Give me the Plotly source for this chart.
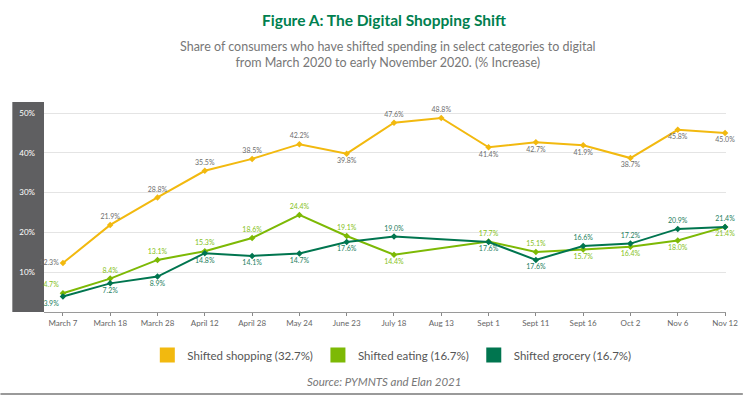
import plotly.graph_objects as go

categories = ["March 7", "March 18", "March 28", "April 12", "April 28", "May 24", "June 23",
              "July 18", "Aug 13", "Sept 1", "Sept 11", "Sept 16", "Oct 2", "Nov 6", "Nov 12"]
shopping = [12.3, 21.9, 28.8, 35.5, 38.5, 42.2, 39.8, 47.6, 48.8, 41.4, 42.7, 41.9, 38.7, 45.8, 45.0]
eating = [4.7, 8.4, 13.1, 15.3, 18.6, 24.4, 19.1, 14.4, None, 17.7, 15.1, 15.7, 16.4, 18.0, 21.4]
grocery = [3.9, 7.2, 8.9, 14.8, 14.1, 14.7, 17.6, 19.0, None, 17.6, 13.1, 16.6, 17.2, 20.9, 21.4]
# label values as printed in the source chart (Sept 11 grocery is printed as 17.6%)
grocery_printed = [3.9, 7.2, 8.9, 14.8, 14.1, 14.7, 17.6, 19.0, None, 17.6, 17.6, 16.6, 17.2, 20.9, 21.4]
y_ticks = [10, 20, 30, 40, 50]
legend_names = ["Shifted shopping (32.7%)", "Shifted eating (16.7%)", "Shifted grocery (16.7%)"]

C_SHOP = "#F2B90F"
C_EAT = "#7DB905"
C_GRO = "#00754F"

shop_pos = ["middle left", "top center", "top center", "top center", "top center", "top center",
            "bottom center", "top center", "top center", "bottom center", "bottom center",
            "bottom center", "bottom center", "bottom center", "bottom center"]
eat_pos = ["top left", "top center", "top center", "top center", "top center", "top center",
           "top center", "bottom center", "top center", "top center", "top center",
           "bottom center", "bottom center", "bottom center", "bottom center"]
gro_pos = ["bottom left", "bottom center", "bottom center", "bottom center", "bottom center",
           "bottom center", "bottom center", "top center", "top center", "bottom center",
           "bottom center", "top center", "top center", "top center", "top center"]


def labels(vals):
    return ["" if v is None else f"{v:.1f}%" for v in vals]


FONT = "Lato, 'Open Sans', sans-serif"
NARROW = "'Liberation Sans Narrow', Lato, sans-serif"

fig = go.Figure()
series = [
    (shopping, labels(shopping), shop_pos, C_SHOP, "#6e6e6e"),
    (eating, labels(eating), eat_pos, C_EAT, "#86C21A"),
    (grocery, labels(grocery_printed), gro_pos, C_GRO, "#1E8060"),
]
for vals, txt, pos, col, tcol in series:
    fig.add_trace(go.Scatter(
        x=categories, y=vals, mode="lines+markers+text", text=txt, textposition=pos,
        textfont=dict(size=7, color=tcol, family=NARROW),
        line=dict(color=col, width=2), marker=dict(symbol="diamond", size=5, color=col),
        connectgaps=True, cliponaxis=False, showlegend=False, hoverinfo="skip"))

for name, col in zip(legend_names, [C_SHOP, C_EAT, C_GRO]):
    fig.add_trace(go.Scatter(x=[None], y=[None], mode="markers", name=name,
                             marker=dict(symbol="square", size=15, color=col)))

fig.update_layout(
    width=750, height=396,
    margin=dict(l=44, r=17, t=102, b=84),
    paper_bgcolor="white", plot_bgcolor="white",
    font=dict(family=FONT, color="#666"),
    xaxis=dict(type="category", range=[-0.4, 14.02], showgrid=False, showline=True,
               linecolor="#9a9a9a", linewidth=1, ticks="outside", ticklen=3, tickcolor="#888",
               tickfont=dict(size=8, color="#666"), fixedrange=True),
    yaxis=dict(range=[0, 52.8], tickvals=y_ticks, ticktext=[f"{v}%" for v in y_ticks],
               showgrid=True, gridcolor="#e4e4e4", gridwidth=1, zeroline=False,
               tickfont=dict(size=8, color="white"), ticklabelstandoff=8, fixedrange=True),
    legend=dict(orientation="h", x=0.51, xanchor="center", y=-0.205, yanchor="middle",
                font=dict(size=11.5, color="#555", family=FONT), itemsizing="trace",
                bgcolor="rgba(0,0,0,0)"),
    shapes=[
        dict(type="rect", xref="paper", yref="paper", x0=-32 / 689, x1=0, y0=0, y1=1,
             fillcolor="#5f5f61", line=dict(width=0), layer="below"),
        dict(type="line", xref="paper", yref="paper", x0=-44 / 689, x1=706 / 689,
             y0=-82 / 210, y1=-82 / 210, line=dict(color="#9a9a9a", width=2)),
    ],
    annotations=[
        dict(text="<b>Figure A: The Digital Shopping Shift</b>", xref="paper", yref="paper",
             x=0.499, y=1 + 82 / 210, xanchor="center", yanchor="middle", showarrow=False,
             font=dict(size=15.5, color="#00804F", family=FONT)),
        dict(text="Share of consumers who have shifted spending in select categories to digital<br>"
                  "from March 2020 to early November 2020. (% Increase)",
             xref="paper", yref="paper", x=0.504, y=1 + 47 / 210, xanchor="center", yanchor="middle",
             showarrow=False, font=dict(size=12.5, color="#777", family=FONT)),
        dict(text="<i>Source: PYMNTS and Elan 2021</i>", xref="paper", yref="paper",
             x=0.4985, y=-69 / 210, xanchor="center", yanchor="middle", showarrow=False,
             font=dict(size=11.5, color="#777", family=FONT)),
    ],
)

fig.write_html("out.html", config={"displayModeBar": False},
               post_script="document.body.style.margin='0';document.body.style.overflow='hidden';")
